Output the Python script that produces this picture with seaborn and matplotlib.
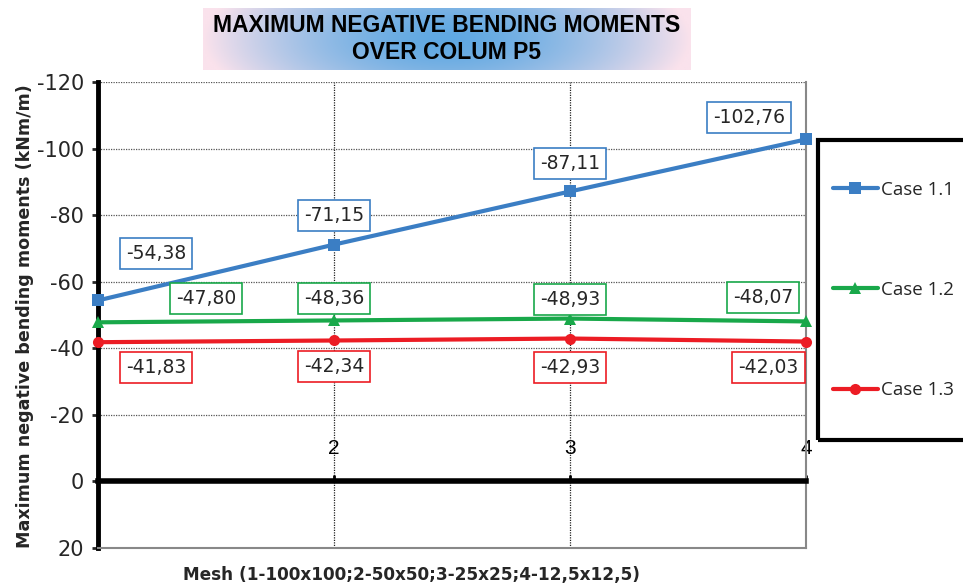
import numpy as np
import pandas as pd
import matplotlib.pyplot as plt
import seaborn as sns
from matplotlib.patches import Rectangle
from matplotlib.lines import Line2D

# data
mesh = [1, 2, 3, 4]
case_names = ["Case 1.1", "Case 1.2", "Case 1.3"]
case_11 = [-54.38, -71.15, -87.11, -102.76]
case_12 = [-47.80, -48.36, -48.93, -48.07]
case_13 = [-41.83, -42.34, -42.93, -42.03]
y_ticks = [-120, -100, -80, -60, -40, -20, 0, 20]
x_tick_labels = ["", "2", "3", "4"]

colors = {"Case 1.1": "#3b7ec4", "Case 1.2": "#19a84a", "Case 1.3": "#ec1c24"}
markers = {"Case 1.1": "s", "Case 1.2": "^", "Case 1.3": "o"}

# label offsets (points) for each value box
offsets = {
    "Case 1.1": [(42, 34), (0, 21), (0, 20), (-41, 16)],
    "Case 1.2": [(78, 17), (0, 16), (0, 14), (-31, 17)],
    "Case 1.3": [(42, -18), (0, -19), (0, -21), (-27, -19)],
}

df = pd.DataFrame({
    "mesh": mesh * 3,
    "value": case_11 + case_12 + case_13,
    "case": [c for c in case_names for _ in mesh],
})

sns.set_style("white")
plt.rcParams["font.family"] = ["DejaVu Sans"]

fig = plt.figure(figsize=(9.63, 5.87), dpi=100)
ax = fig.add_axes([98 / 963, 1 - 548 / 587, 708 / 963, 466 / 587])

sns.lineplot(data=df, x="mesh", y="value", hue="case", style="case",
             palette=colors, markers=markers, dashes=False, linewidth=3,
             markersize=8, markeredgewidth=0, legend=False, ax=ax, zorder=4)
for ln in ax.lines:
    ln.set_clip_on(False)

ax.set_xlim(1, 4)
ax.set_ylim(20, -120)
ax.set_yticks(y_ticks)
ax.set_yticklabels([str(v) for v in y_ticks])
ax.set_xticks(mesh)
ax.set_xticklabels(x_tick_labels)
ax.set_xlabel("")
ax.set_ylabel("")

ax.grid(True, which="major", axis="y", color="#555555", linestyle=(0, (1, 1)), linewidth=0.9)
ax.grid(True, which="major", axis="x", color="#222222", linestyle=(0, (1, 1)), linewidth=0.9)

ax.spines["left"].set_linewidth(3.5)
ax.spines["left"].set_color("black")
ax.spines["top"].set_position(("data", 0))
ax.spines["top"].set_linewidth(4)
ax.spines["top"].set_color("black")
ax.spines["top"].set_zorder(3)
ax.spines["bottom"].set_color("#888888")
ax.spines["bottom"].set_linewidth(1.5)
ax.spines["right"].set_color("#888888")
ax.spines["right"].set_linewidth(1.5)

ax.xaxis.tick_top()
ax.tick_params(axis="x", direction="out", length=4, width=2, pad=13,
               colors="black", labeltop=True, labelbottom=False)
for lab in ax.get_xticklabels():
    lab.set_family(["Liberation Sans", "DejaVu Sans"])
    lab.set_fontsize(15)
ax.tick_params(axis="y", direction="out", length=4, width=2, pad=6, left=True,
               labelsize=15)

# value boxes
series = {"Case 1.1": case_11, "Case 1.2": case_12, "Case 1.3": case_13}
for name in case_names:
    for xv, yv, off in zip(mesh, series[name], offsets[name]):
        ax.annotate(f"{yv:.2f}".replace(".", ","), xy=(xv, yv), xytext=off,
                    textcoords="offset points", ha="center", va="center",
                    fontsize=13.5, zorder=6, annotation_clip=False,
                    bbox=dict(boxstyle="square,pad=0.32", fc="white",
                              ec=colors[name], lw=1.2))

# legend with its own frame running off the right edge
fig.patches.append(Rectangle((818 / 963, 1 - 440 / 587), 0.3, 300 / 587,
                             transform=fig.transFigure, fill=False,
                             ec="black", lw=3, clip_on=False))
handles = [Line2D([], [], color=colors[c], marker=markers[c], lw=3,
                  markersize=8, markeredgewidth=0) for c in case_names]
fig.legend(handles, case_names, loc="center left",
           bbox_to_anchor=(816 / 963, 1 - 290 / 587), frameon=False,
           prop={"family": ["Open Sans", "DejaVu Sans"], "size": 13.5},
           handlelength=2.4, handletextpad=0.15, labelspacing=4.38)

# title with gradient band
tax = fig.add_axes([203 / 963, 1 - 70 / 587, 487 / 963, 62 / 587])
gx, gy = np.meshgrid(np.linspace(-1, 1, 300), np.linspace(-1, 1, 60))
r = np.clip(np.sqrt(gx ** 2 + (gy * 0.35) ** 2), 0, 1)
pink = np.array([250, 226, 236]) / 255
blue = np.array([95, 168, 226]) / 255
w = (r ** 1.6)[..., None]
tax.imshow(blue * (1 - w) + pink * w, aspect="auto", extent=(0, 1, 0, 1))
tax.set_axis_off()
tax.text(0.5, 0.5, "MAXIMUM NEGATIVE BENDING MOMENTS\nOVER COLUM P5",
         ha="center", va="center", fontsize=16.5, fontweight="bold",
         family=["Liberation Sans", "DejaVu Sans"], color="black",
         linespacing=1.2, transform=tax.transAxes)

fig.text(183 / 963, 1 - 575 / 587, "Mesh (1-100x100;2-50x50;3-25x25;4-12,5x12,5)",
         ha="left", va="center", fontsize=12.2, fontweight="bold")
fig.text(25 / 963, 1 - 316 / 587, "Maximum negative bending moments (kNm/m)",
         ha="center", va="center", rotation=90, fontsize=12.6, fontweight="bold")

fig.savefig("out.png", dpi=100)
